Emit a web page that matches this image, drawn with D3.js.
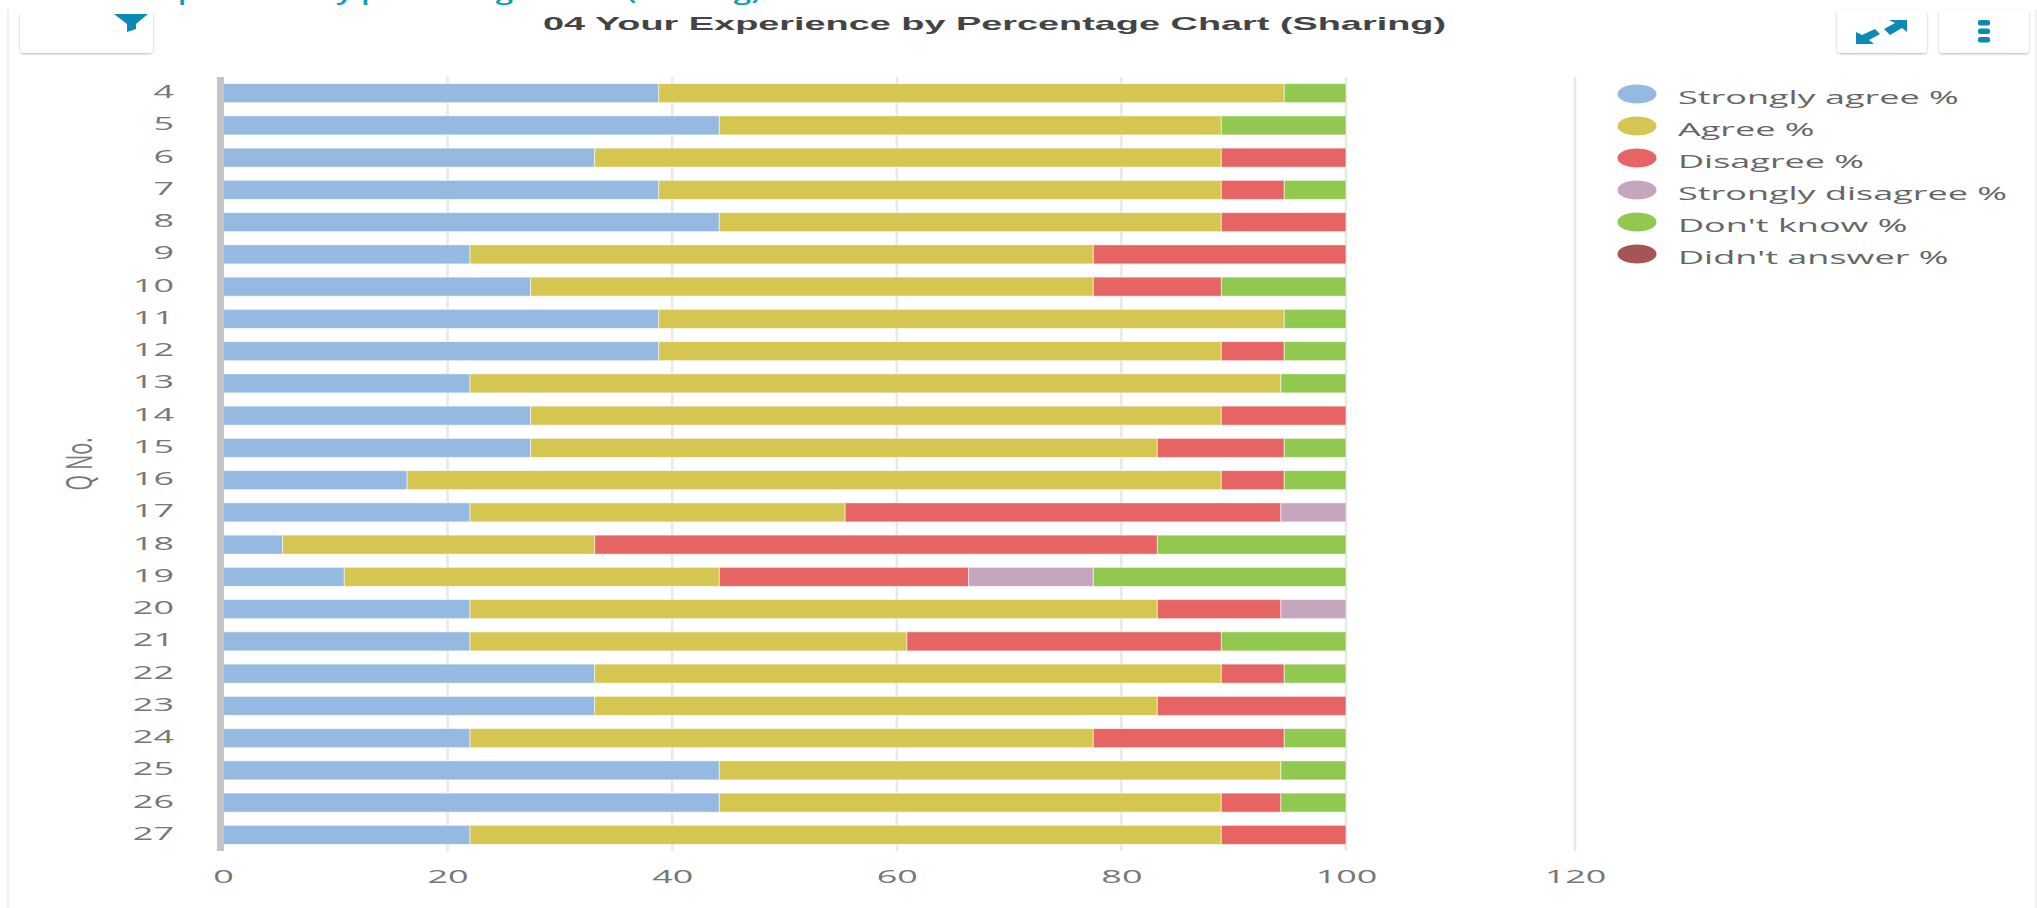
<!DOCTYPE html>
<html>
<head>
<meta charset="utf-8">
<script src="https://cdn.jsdelivr.net/npm/d3@7"></script>
<style>
  html, body { margin: 0; padding: 0; background: #fff; overflow: hidden; }
  svg { display: block; }
</style>
</head>
<body>
<svg id="chart" width="2037" height="908"></svg>
<script>
const questions = ['4','5','6','7','8','9','10','11','12','13','14','15','16','17','18','19','20','21','22','23','24','25','26','27'];
const xTicks = [0, 20, 40, 60, 80, 100, 120];

const stronglyAgree    = [38.8,44.2,33.1,38.8,44.2,22,27.4,38.8,38.8,22,27.4,27.4,16.4,22,5.3,10.8,22,22,33.1,33.1,22,44.2,44.2,22];
const agree            = [55.7,44.7,55.8,50.1,44.7,55.5,50.1,55.7,50.1,72.2,61.5,55.8,72.5,33.4,27.8,33.4,61.2,38.9,55.8,50.1,55.5,50,44.7,66.9];
const disagree         = [0,0,11.1,5.6,11.1,22.5,11.4,0,5.6,0,11.1,11.3,5.6,38.8,50.1,22.2,11,28,5.6,16.8,17,0,5.3,11.1];
const stronglyDisagree = [0,0,0,0,0,0,0,0,0,0,0,0,0,5.8,0,11.1,5.8,0,0,0,0,0,0,0];
const dontKnow         = [5.5,11.1,0,5.5,0,0,11.1,5.5,5.5,5.8,0,5.5,5.5,0,16.8,22.5,0,11.1,5.5,0,5.5,5.8,5.8,0];
const didntAnswer      = new Array(24).fill(0);

const seriesNames = ['Strongly agree %', 'Agree %', 'Disagree %', 'Strongly disagree %', "Don't know %", "Didn't answer %"];
const seriesColors = ['#95b9e1', '#d4c651', '#e66464', '#c6a5be', '#90c850', '#a55555'];
const seriesValues = [stronglyAgree, agree, disagree, stronglyDisagree, dontKnow, didntAnswer];

const rows = questions.map((q, i) => {
  const row = { q };
  seriesNames.forEach((name, s) => { row[name] = seriesValues[s][i]; });
  return row;
});

const svg = d3.select('#chart');
const textGrey = '#777777';
const iconBlue = '#0b8ab3';
const stretch = 2;

const plot = { left: 223, right: 1575, top: 77, bottom: 851 };

const xScale = d3.scaleLinear().domain([0, 100, 120]).range([plot.left, 1346, plot.right]);
const yScale = d3.scaleBand().domain(questions).range([plot.top, plot.bottom])
  .paddingInner(0.41).paddingOuter(0.205);

// Drop shadow for the buttons
const defs = svg.append('defs');
const shadow = defs.append('filter').attr('id', 'btnShadow')
  .attr('x', '-10%').attr('y', '-10%').attr('width', '120%').attr('height', '130%');
shadow.append('feDropShadow').attr('dx', 0).attr('dy', 1).attr('stdDeviation', 1.2)
  .attr('flood-color', '#000').attr('flood-opacity', 0.28);

// Card edges
svg.append('rect').attr('x', 7).attr('y', 10).attr('width', 2).attr('height', 898).attr('fill', '#efefef');
svg.append('rect').attr('x', 2035).attr('y', 10).attr('width', 2).attr('height', 898).attr('fill', '#efefef');

// Heading cut off by the top of the page
svg.append('text')
  .attr('x', 143).attr('y', 0)
  .attr('textLength', 618).attr('lengthAdjust', 'spacingAndGlyphs')
  .style('font-family', '"Open Sans", sans-serif')
  .style('font-size', '21px')
  .style('font-weight', 600)
  .style('fill', '#0a9fb5')
  .text('Experience by percentage chart (Sharing)');

// Buttons
[[20, 133], [1837, 90], [1939, 90]].forEach(([x, w]) => {
  svg.append('rect').attr('x', x).attr('y', 10).attr('width', w).attr('height', 43).attr('rx', 4)
    .attr('fill', '#fff').attr('filter', 'url(#btnShadow)');
});
// the filter button is open at the top
svg.append('rect').attr('x', 14).attr('y', 0).attr('width', 145).attr('height', 14).attr('fill', '#fff');
svg.append('rect').attr('x', 7).attr('y', 10).attr('width', 2).attr('height', 20).attr('fill', '#efefef');

// Filter icon
svg.append('path')
  .attr('d', 'M114 14 H148 L136 24 V29 L127 32 V24 Z')
  .attr('fill', iconBlue);

// Expand icon
const expand = svg.append('g').attr('fill', iconBlue);
expand.append('path').attr('d', 'M1907 20 V32 L1902 28 L1890 35 L1884 29 L1895 23 L1889 20 Z');
expand.append('path').attr('d', 'M1856 44 V32 L1862 35 L1875 29 L1880 34 L1869 40 L1874 44 Z');

// Menu icon
[20, 28.5, 37].forEach(y => {
  svg.append('rect').attr('x', 1978).attr('y', y).attr('width', 12).attr('height', 5.5).attr('rx', 2).attr('fill', iconBlue);
});

// Title
svg.append('text')
  .attr('x', 543).attr('y', 29.5)
  .attr('textLength', 903).attr('lengthAdjust', 'spacingAndGlyphs')
  .style('font-family', '"Liberation Sans", Arial, sans-serif')
  .style('font-size', '19px')
  .style('font-weight', 'bold')
  .style('fill', '#444444')
  .text('04 Your Experience by Percentage Chart (Sharing)');

// Grid lines
svg.append('g')
  .selectAll('line')
  .data(xTicks.slice(1))
  .enter()
  .append('line')
  .attr('x1', d => xScale(d)).attr('x2', d => xScale(d))
  .attr('y1', plot.top).attr('y2', plot.bottom)
  .attr('stroke', '#e8e8e8')
  .attr('stroke-width', 2.5);

// Stacked bars
const stack = d3.stack().keys(seriesNames);
const layers = svg.append('g')
  .selectAll('g')
  .data(stack(rows))
  .enter()
  .append('g')
  .attr('fill', (d, i) => seriesColors[i]);

layers.selectAll('rect')
  .data(d => d.filter(p => p[1] > p[0]).map(p => ({ x0: p[0], x1: p[1], q: p.data.q })))
  .enter()
  .append('rect')
  .attr('x', d => xScale(d.x0))
  .attr('y', d => yScale(d.q))
  .attr('width', d => xScale(d.x1) - xScale(d.x0))
  .attr('height', yScale.bandwidth())
  .attr('stroke', 'rgba(255,255,255,0.55)')
  .attr('stroke-width', 1);

// Y axis line
svg.append('rect')
  .attr('x', plot.left - 6).attr('y', plot.top)
  .attr('width', 7).attr('height', plot.bottom - plot.top)
  .attr('fill', '#c4c4c4');

// Y axis
const yAxis = svg.append('g')
  .attr('transform', `translate(${plot.left},0)`)
  .call(d3.axisLeft(yScale).tickSize(0));
yAxis.select('.domain').remove();
yAxis.selectAll('text')
  .attr('x', -49 / stretch)
  .attr('dy', '0.28em')
  .attr('transform', `scale(${stretch},1)`)
  .style('font-family', '"Open Sans", sans-serif')
  .style('font-size', '18px')
  .style('fill', textGrey);

// X axis
const xAxis = svg.append('g')
  .attr('transform', `translate(0,${plot.bottom})`)
  .call(d3.axisBottom(xScale).tickValues(xTicks).tickSize(0));
xAxis.select('.domain').remove();
xAxis.selectAll('text')
  .attr('y', 32)
  .attr('dy', 0)
  .attr('transform', `scale(${stretch},1)`)
  .style('font-family', '"Open Sans", sans-serif')
  .style('font-size', '18px')
  .style('fill', textGrey);

// Y axis title
svg.append('text')
  .attr('transform', 'translate(92,464) scale(1.85,1) rotate(-90)')
  .style('text-anchor', 'middle')
  .style('font-family', '"Open Sans", sans-serif')
  .style('font-size', '20px')
  .style('fill', textGrey)
  .text('Q No.');

// Legend
const legendY = d3.scalePoint().domain(seriesNames).range([94, 254]);
const legend = svg.append('g')
  .selectAll('g')
  .data(seriesNames)
  .enter()
  .append('g')
  .attr('transform', d => `translate(1637,${legendY(d)})`);

legend.append('ellipse')
  .attr('rx', 19.5)
  .attr('ry', 9.5)
  .attr('fill', (d, i) => seriesColors[i]);

legend.append('text')
  .attr('transform', `translate(41,10) scale(${stretch},1)`)
  .style('font-family', '"Open Sans", sans-serif')
  .style('font-size', '18px')
  .style('fill', '#666666')
  .text(d => d);
</script>
</body>
</html>
